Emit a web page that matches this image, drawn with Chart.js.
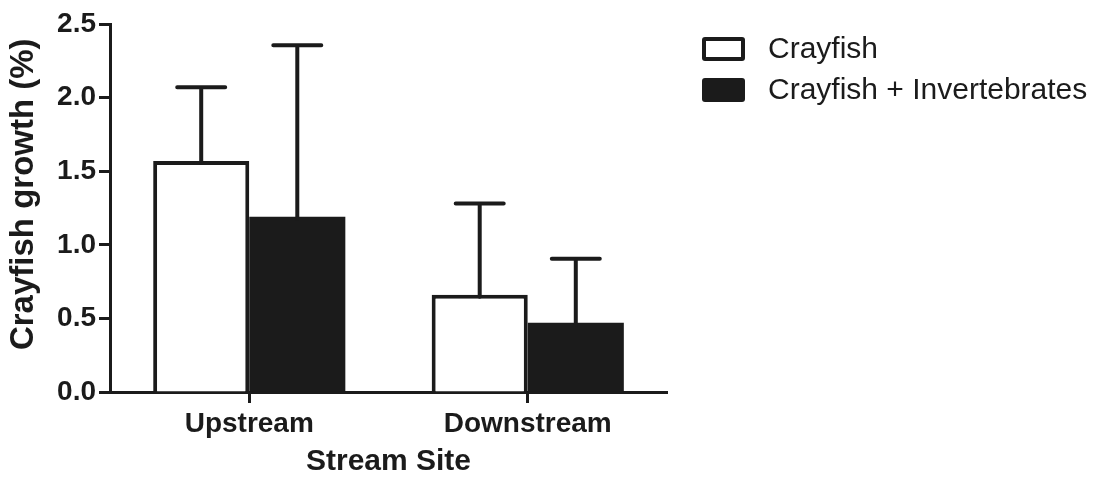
<!DOCTYPE html>
<html>
<head>
<meta charset="utf-8">
<script src="https://cdn.jsdelivr.net/npm/chart.js@4.4.1/dist/chart.umd.min.js"></script>
<style>
  html, body { margin: 0; padding: 0; background: #ffffff; }
  #wrap { width: 1099px; height: 477px; }
</style>
</head>
<body>
<div id="wrap"><canvas id="growth" width="1099" height="477"></canvas></div>
<script>
// Stream sites on the x axis
const sites = ['Upstream', 'Downstream'];
// Treatment names
const seriesNames = ['Crayfish', 'Crayfish + Invertebrates'];
// Mean crayfish growth (%) per treatment
const crayfishMean = [1.57, 0.66];
const mixedMean = [1.19, 0.47];
// Upper error (SE) per treatment
const crayfishErr = [0.50, 0.62];
const mixedErr = [1.165, 0.435];
// Y axis tick values
const yTicks = [0.0, 0.5, 1.0, 1.5, 2.0, 2.5];

const INK = '#1b1b1b';
const FONT = '"Liberation Sans", Arial, Helvetica, sans-serif';

// Upward error bars with capped ends, drawn from each bar's top
const errorBars = {
  id: 'errorBars',
  afterDatasetsDraw(chart) {
    const { ctx } = chart;
    const yScale = chart.scales.y;
    ctx.save();
    ctx.strokeStyle = INK;
    ctx.lineWidth = 4;
    ctx.lineCap = 'round';
    chart.data.datasets.forEach((ds, di) => {
      const meta = chart.getDatasetMeta(di);
      meta.data.forEach((bar, i) => {
        const top = yScale.getPixelForValue(ds.data[i] + ds.errors[i]);
        ctx.beginPath();
        ctx.moveTo(bar.x, bar.y + 2);
        ctx.lineTo(bar.x, top);
        ctx.moveTo(bar.x - 24, top);
        ctx.lineTo(bar.x + 24, top);
        ctx.stroke();
      });
    });
    ctx.restore();
  }
};

// Legend block to the right of the plot
const sideLegend = {
  id: 'sideLegend',
  afterDraw(chart) {
    const { ctx } = chart;
    ctx.save();
    ctx.font = '30px ' + FONT;
    ctx.textBaseline = 'middle';
    ctx.textAlign = 'left';
    chart.data.datasets.forEach((ds, i) => {
      const bx = 702, by = 37 + i * 41, bw = 43, bh = 24;
      ctx.fillStyle = INK;
      ctx.beginPath();
      ctx.roundRect(bx, by, bw, bh, 3);
      ctx.fill();
      if (ds.backgroundColor !== INK) {
        ctx.fillStyle = ds.backgroundColor;
        ctx.fillRect(bx + 4, by + 4, bw - 8, bh - 8);
      }
      ctx.fillStyle = INK;
      ctx.fillText(ds.label, 768, by + bh / 2 + 1);
    });
    ctx.restore();
  }
};

new Chart(document.getElementById('growth'), {
  type: 'bar',
  data: {
    labels: sites,
    datasets: [
      {
        label: seriesNames[0],
        data: crayfishMean,
        errors: crayfishErr,
        backgroundColor: '#ffffff',
        borderColor: INK,
        borderWidth: 4,
        borderSkipped: 'start',
        categoryPercentage: 0.69,
        barPercentage: 1.0
      },
      {
        label: seriesNames[1],
        data: mixedMean,
        errors: mixedErr,
        backgroundColor: INK,
        borderColor: INK,
        borderWidth: 0,
        categoryPercentage: 0.69,
        barPercentage: 1.0
      }
    ]
  },
  options: {
    responsive: false,
    animation: false,
    devicePixelRatio: 1,
    layout: { padding: { top: 24, right: 432, bottom: 0, left: 0 } },
    plugins: {
      legend: { display: false },
      tooltip: { enabled: false }
    },
    scales: {
      x: {
        offset: true,
        border: { display: true, color: INK, width: 3 },
        grid: {
          offset: false,
          drawOnChartArea: false,
          drawTicks: true,
          tickLength: 11,
          tickWidth: 3,
          tickColor: INK,
          color: INK
        },
        ticks: {
          color: INK,
          padding: 4,
          maxRotation: 0,
          font: { family: FONT, size: 28, weight: 'bold' }
        },
        title: {
          display: true,
          text: 'Stream Site',
          color: INK,
          padding: { top: 0, bottom: 0 },
          font: { family: FONT, size: 30, weight: 'bold', lineHeight: 1.0 }
        },
        afterFit(scale) { scale.height = 85; }
      },
      y: {
        min: 0,
        max: 2.5,
        border: { display: true, color: INK, width: 3 },
        grid: {
          drawOnChartArea: false,
          drawTicks: true,
          tickLength: 11,
          tickWidth: 3,
          tickColor: INK,
          color: INK
        },
        afterBuildTicks(scale) {
          scale.ticks = yTicks.map(v => ({ value: v }));
        },
        ticks: {
          color: INK,
          padding: 3,
          font: { family: FONT, size: 28, weight: 'bold' },
          callback: v => Number(v).toFixed(1)
        },
        title: {
          display: true,
          text: '   Crayfish growth (%)',
          color: INK,
          padding: { top: 4, bottom: 0 },
          font: { family: FONT, size: 33, weight: 'bold', lineHeight: 1.2 }
        },
        afterFit(scale) { scale.width = 110; }
      }
    }
  },
  plugins: [errorBars, sideLegend]
});
</script>
</body>
</html>
